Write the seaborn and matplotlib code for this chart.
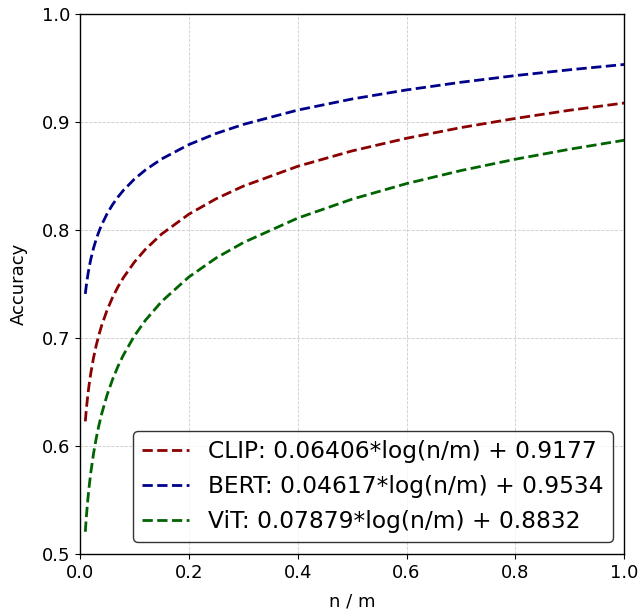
import numpy as np
import pandas as pd
import seaborn as sns
import matplotlib.pyplot as plt

# points
n_over_m = [0.01, 0.011, 0.012, 0.013, 0.015, 0.017, 0.02, 0.025, 0.03, 0.035, 0.04, 0.05,
            0.06, 0.07, 0.08, 0.1, 0.12, 0.15, 0.2, 0.25, 0.3, 0.4, 0.5, 0.6, 0.7, 0.8, 0.9, 1.0]
clip_acc = [0.6227, 0.6288, 0.6344, 0.6395, 0.6487, 0.6567, 0.6671, 0.6814, 0.6931, 0.7029, 0.7115, 0.7258,
            0.7375, 0.7474, 0.7559, 0.7702, 0.7819, 0.7962, 0.8146, 0.8289, 0.8406, 0.8590, 0.8733, 0.8850,
            0.8949, 0.9034, 0.9110, 0.9177]
bert_acc = [0.7408, 0.7452, 0.7492, 0.7529, 0.7595, 0.7653, 0.7728, 0.7831, 0.7915, 0.7986, 0.8048, 0.8151,
            0.8235, 0.8306, 0.8368, 0.8471, 0.8555, 0.8658, 0.8791, 0.8894, 0.8978, 0.9111, 0.9214, 0.9298,
            0.9369, 0.9431, 0.9485, 0.9534]
vit_acc = [0.5204, 0.5279, 0.5347, 0.5410, 0.5523, 0.5622, 0.5750, 0.5926, 0.6069, 0.6191, 0.6296, 0.6472,
           0.6615, 0.6737, 0.6842, 0.7018, 0.7161, 0.7337, 0.7564, 0.7740, 0.7883, 0.8110, 0.8286, 0.8430,
           0.8551, 0.8656, 0.8749, 0.8832]

labels = ["CLIP: 0.06406*log(n/m) + 0.9177",
          "BERT: 0.04617*log(n/m) + 0.9534",
          "ViT: 0.07879*log(n/m) + 0.8832"]
cores = ["darkred", "darkblue", "darkgreen"]

df = pd.DataFrame({
    "n / m": n_over_m * 3,
    "Accuracy": clip_acc + bert_acc + vit_acc,
    "modelo": [labels[0]] * len(n_over_m) + [labels[1]] * len(n_over_m) + [labels[2]] * len(n_over_m),
})

sns.set_style("ticks")
plt.rcParams["font.family"] = ["DejaVu Sans"]
plt.rcParams["text.color"] = "black"
plt.rcParams["axes.labelcolor"] = "black"
plt.rcParams["xtick.color"] = "black"
plt.rcParams["ytick.color"] = "black"

fig, ax = plt.subplots(figsize=(6.39, 6.16), dpi=100)
fig.subplots_adjust(left=0.125, right=0.977, top=0.977, bottom=0.101)

sns.lineplot(data=df, x="n / m", y="Accuracy", hue="modelo", palette=cores,
             linestyle="--", linewidth=2, ax=ax)

ax.set_xlim(0, 1)
ax.set_ylim(0.5, 1.0)
ax.set_xticks([0.0, 0.2, 0.4, 0.6, 0.8, 1.0])
ax.set_yticks([0.5, 0.6, 0.7, 0.8, 0.9, 1.0])
ax.tick_params(labelsize=13)
ax.set_xlabel("n / m", fontsize=13, labelpad=8)
ax.set_ylabel("Accuracy", fontsize=13, labelpad=10)
ax.grid(True, linestyle="--", linewidth=0.6, color="#cccccc")
for s in ax.spines.values():
    s.set_visible(True)
    s.set_linewidth(1.0)
    s.set_color("black")

leg = ax.legend(loc="lower right", fontsize=16.8, frameon=True, edgecolor="black")
for line in leg.get_lines():
    line.set_linestyle("--")
    line.set_linewidth(2)

fig.savefig("out.png", dpi=100)
